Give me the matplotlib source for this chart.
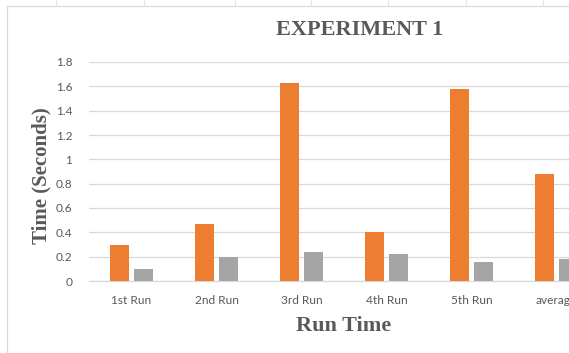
import matplotlib
matplotlib.use("Agg")
import matplotlib.pyplot as plt
from matplotlib.lines import Line2D
import numpy as np

# Run times (seconds) for each run, two series
runs = ["1st Run", "2nd Run", "3rd Run", "4th Run", "5th Run", "average"]
series_a = [0.30, 0.47, 1.63, 0.40, 1.58, 0.88]
series_b = [0.10, 0.20, 0.24, 0.22, 0.16, 0.18]
yticks = [0, 0.2, 0.4, 0.6, 0.8, 1, 1.2, 1.4, 1.6, 1.8]

ORANGE = "#ED7D31"
GREY = "#A5A5A5"
TEXT = "#595959"
GRID = "#D9D9D9"

W, H = 569, 353
fig = plt.figure(figsize=(W / 100, H / 100), dpi=100)
fig.patch.set_facecolor("white")

# plot area runs past the right edge of the canvas
ax = fig.add_axes([89 / W, 72 / H, 510 / W, 219 / H])

x = np.arange(len(runs))
bw = 0.23
ax.bar(x - 0.14, series_a, width=bw, color=ORANGE, zorder=3)
ax.bar(x + 0.14, series_b, width=bw, color=GREY, zorder=3)

ax.set_xlim(-0.5, len(runs) - 0.5)
ax.set_ylim(0, 1.8)
ax.set_yticks(yticks)
ax.set_yticklabels([f"{v:g}" for v in yticks])
ax.set_xticks(x)
ax.set_xticklabels(runs)
ax.grid(axis="y", color=GRID, linewidth=0.9, zorder=0)
for side in ["top", "right", "left"]:
    ax.spines[side].set_visible(False)
ax.spines["bottom"].set_color(GRID)
ax.spines["bottom"].set_linewidth(0.9)
ax.tick_params(axis="both", length=0, colors=TEXT, labelsize=8.6)
ax.tick_params(axis="y", pad=12)
ax.tick_params(axis="x", pad=10)
for lab in ax.get_xticklabels() + ax.get_yticklabels():
    lab.set_fontfamily("Lato")

serif = dict(family="Liberation Serif", weight="bold", color=TEXT)
fig.text(360 / W, 1 - 30 / H, "EXPERIMENT 1", ha="center", va="center",
         fontsize=16, **serif)
fig.text(344 / W, 1 - 326 / H, "Run Time", ha="center", va="center",
         fontsize=16, **serif)
fig.text(41 / W, 1 - 176 / H, "Time (Seconds)", ha="center", va="center",
         rotation=90, fontsize=15, **serif)

# chart frame and sheet cell lines around it
fig.add_artist(Line2D([7 / W, 7 / W], [0, 1 - 6 / H], color=GRID, lw=0.9))
fig.add_artist(Line2D([7 / W, 1], [1 - 6 / H, 1 - 6 / H], color=GRID, lw=0.9))
for cx in [56, 144, 235, 311, 388, 466, 543]:
    fig.add_artist(Line2D([cx / W, cx / W], [1 - 5 / H, 1], color="#E6E6E6", lw=0.8))

fig.savefig("out.png", dpi=100)
